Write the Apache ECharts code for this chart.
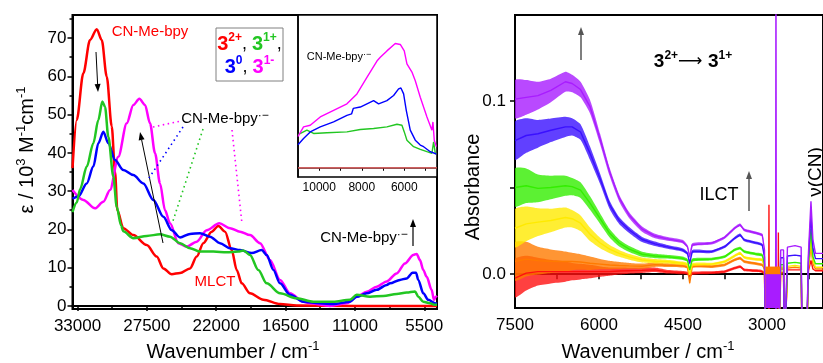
<!DOCTYPE html>
<html>
<head>
<meta charset="utf-8">
<script src="https://cdn.jsdelivr.net/npm/echarts@6/dist/echarts.min.js"></script>
<style>
  html, body { margin: 0; padding: 0; background: #fff; }
  #chart { width: 823px; height: 363px; }
</style>
</head>
<body>
<div id="chart"></div>
<script>
// ---- left panel: UV-vis-NIR spectra, [wavenumber, eps / 10^3] ----
const uvRed = [[33400,36],[33063,48.6],[32540,60.8],[32009,69.5],[31477,72.3],[31081,69.5],[30684,59.9],[30288,46.9],[30026,35],[29844,25],[29368,20.3],[28575,18.5],[27512,15.9],[26719,12.9],[26196,9.8],[25530,8.3],[24872,8.6],[24079,9.8],[23547,12.9],[23024,16.4],[22358,19.4],[21835,20.9],[21303,19.4],[20772,14.6],[20376,9.4],[19979,5.9],[19321,3.3],[18266,1.6],[16942,0.5],[15618,0.1],[11000,0],[4490,0]]
const uvMagenta = [[33400,30.3],[32540,27.7],[31612,25.5],[30954,27.2],[30423,30.3],[29765,39],[29098,47.7],[28575,52.5],[28099,54.1],[27647,52.5],[27251,47.7],[26854,39.9],[26458,32],[26063,25],[25665,21.6],[25007,16.4],[24340,15.5],[23547,16.8],[22754,19.8],[21755,21.6],[20907,20.3],[20114,19.4],[19321,18.5],[18528,16.4],[17735,12],[16942,6.8],[16149,3.3],[15094,1.1],[14563,0.7],[12977,0],[11653,0.7],[10859,2.4],[10066,3.7],[9273,5.0],[8480,6.4],[7688,8.5],[7030,11.1],[6371,13.3],[6101,13.6],[5840,12],[5578,9.4],[5309,7.6],[4913,4.2],[4731,1.6],[4573,2.4],[4490,2.6]]
const uvBlue = [[33400,28],[32937,28.6],[32270,32],[31747,36.4],[31350,42.5],[30954,45.5],[30558,42.5],[30026,38.1],[29368,35.5],[28575,34.2],[27782,32],[26989,27.7],[26196,23.3],[25530,19.8],[24872,17.9],[24079,18.8],[23285,19],[22492,18.1],[21699,16.4],[20907,15.1],[20114,14.6],[19186,13.8],[18394,14.6],[17996,13.3],[17467,9.4],[16942,5.9],[16149,2.9],[15094,1.1],[13773,0.7],[12715,0.5],[11391,1.1],[10859,2.4],[10066,3.3],[9273,4.2],[8480,5.5],[8219,5.9],[7426,6.8],[6895,7.2],[6419,8.7],[6156,8.7],[5974,6.8],[5578,3.3],[5181,1.6],[4652,0.7],[4490,0.6]]
const uvGreen = [[33400,24.5],[33063,27],[32800,30.5],[32270,36.4],[31747,42.5],[31350,48.6],[31033,53.4],[30820,52],[30558,44.2],[30161,33.8],[29891,25.9],[29550,21],[29368,19.5],[28575,17.7],[27512,18.3],[26458,18.7],[25665,18.1],[24872,16.4],[24079,15.1],[23285,14.2],[22231,14.2],[21168,14],[20249,14.2],[19852,14.5],[19321,13.3],[18662,9.4],[17996,5.9],[16942,3.3],[15618,2.0],[14301,1.1],[12715,1.1],[11391,1.6],[10859,2.9],[9802,2.4],[8745,2.6],[7688,3.1],[6895,3.5],[6236,3.8],[5974,2.4],[5578,1.1],[5048,0.7],[4652,0.3],[4490,0.3]]

// inset (NIR zoom)
const insetRed = [[11000,0],[4460,0]]
const insetMagenta = [[11000,3.4],[10739,4.44],[10424,4.62],[9953,5.52],[9325,6.24],[8698,6.95],[8227,8.03],[7757,9.82],[7286,11.6],[7129,12.0],[6816,12.7],[6424,13.5],[6188,13.4],[6000,12.7],[5875,11.3],[5639,10.4],[5482,9.46],[5247,7.67],[4933,5.52],[4698,4.09],[4651,4.98],[4588,3.0],[4494,2.3]]
const insetBlue = [[11000,2.5],[10739,3.19],[10424,3.9],[9953,4.44],[9325,4.98],[8698,5.7],[8480,5.85],[8400,6.45],[8070,6.6],[7757,6.95],[7443,7.3],[7208,6.95],[6816,7.3],[6502,7.85],[6267,8.57],[6157,8.67],[6031,8.03],[5906,6.24],[5718,4.09],[5482,3.0],[5247,2.47],[5090,2.29],[4776,1.75],[4494,1.5]]
const insetGreen = [[11000,3.6],[10974,3.73],[10581,4.09],[10267,3.73],[9639,3.8],[8698,3.9],[8070,4.16],[7443,4.27],[6816,4.44],[6345,4.73],[6110,4.62],[6000,3.9],[5875,3.0],[5561,2.29],[5247,2.0],[4933,1.75],[4698,1.58],[4620,2.83],[4541,1.58],[4494,1.5]]

const uvTicks = [33000, 27500, 22000, 16500, 11000, 5500]
const uvMinorTicks = [30250, 24750, 19250, 13750, 8250]
const epsTicks = [0, 10, 20, 30, 40, 50, 60, 70]
const epsMinorTicks = [5, 15, 25, 35, 45, 55, 65, 75]
const insetLabels = [10000, 8000, 6000]
const insetTicks = [10000, 9000, 8000, 7000, 6000, 5000]

// ---- right panel: IR difference spectra on a shared wavenumber grid ----
const irWn = [7500,7300,7090,6860,6600,6480,6330,6160,5980,5810,5640,5460,5230,5000,4800,4510,4420,4380,4335,3990,3755,3580,3480,3405,3175,3085,3045,3025,2972,2965,2958,2847,2840,2833,2804,2797,2790,2770,2755,2705,2690,2660,2635,2500,2390,2370,2300,2260,2215,2180,2135,2000]
const irPurple = [0.101,0.102,0.103,0.106,0.111,0.110,0.1065,0.0966,0.078,0.059,0.044,0.034,0.026,0.022,0.0205,0.0188,0.0159,0.0101,0.0169,0.0179,0.0213,0.0265,0.0284,0.0255,0.0236,0.0226,0.014,-0.05,-0.05,-0.05,-0.05,-0.05,0.2,-0.05,-0.05,-0.05,-0.05,-0.05,0.014,0.014,-0.05,-0.05,0.0156,0.0165,0.0156,-0.05,-0.05,0.012,0.042,0.02,0.012,0.012]
const irBlue = [0.077,0.080,0.081,0.083,0.085,0.085,0.082,0.0697,0.055,0.040,0.031,0.0255,0.020,0.0175,0.0159,0.014,0.012,0.0063,0.013,0.013,0.0159,0.0207,0.0226,0.0198,0.0179,0.0169,0.010,-0.05,-0.05,-0.05,-0.05,-0.05,-0.05,-0.05,-0.05,-0.05,-0.05,-0.05,0.0095,0.0095,-0.05,-0.05,0.0105,0.011,0.0105,-0.05,-0.05,0.009,0.034,0.015,0.009,0.009]
const irGreen = [0.050,0.051,0.0495,0.050,0.051,0.0505,0.0485,0.041,0.032,0.0236,0.018,0.0145,0.0115,0.0105,0.0101,0.0092,0.008,0.0025,0.0082,0.0087,0.0101,0.014,0.015,0.013,0.0115,0.011,0.006,-0.05,-0.05,-0.05,-0.05,-0.05,-0.05,-0.05,-0.05,-0.05,-0.05,-0.05,0.0055,0.0055,-0.05,-0.05,0.0063,0.0068,0.0063,-0.05,-0.05,0.006,0.026,0.01,0.006,0.006]
const irYellow = [0.0265,0.029,0.030,0.031,0.0327,0.032,0.0294,0.023,0.018,0.0145,0.012,0.010,0.0082,0.0075,0.0073,0.0063,0.0055,-0.0004,0.0054,0.0058,0.0073,0.0105,0.0121,0.0097,0.0085,0.0082,0.004,-0.05,-0.05,-0.05,-0.05,-0.05,-0.05,-0.05,-0.05,-0.05,-0.05,-0.05,0.004,0.004,-0.05,-0.05,0.0045,0.005,0.0045,-0.05,-0.05,0.004,0.02,0.008,0.004,0.004]
const irOrange = [0.0073,0.0087,0.0078,0.0075,0.0073,0.0073,0.007,0.0063,0.0058,0.0053,0.005,0.0048,0.0046,0.0055,0.0052,0.0048,0.004,-0.0052,0.0044,0.0044,0.0054,0.0082,0.0092,0.0073,0.006,0.0054,0.003,-0.05,-0.05,-0.05,-0.05,-0.05,-0.05,-0.05,-0.05,-0.05,-0.05,-0.05,0.003,0.003,-0.05,-0.05,0.0035,0.004,0.0035,-0.05,-0.05,0.003,0.016,0.006,0.003,0.003]
const irRed = [-0.0023,0.0006,0.0015,0.0015,0.0015,0.0015,0.0015,0.0015,0.0015,0.0015,0.0018,0.002,0.0022,0.0025,0.0015,0.0009,0.0005,-0.0014,0.0005,0.0009,0.0015,0.0035,0.0044,0.0025,0.002,0.0015,0.0005,-0.05,-0.05,0.040,-0.05,-0.05,-0.05,-0.05,-0.05,0.024,-0.05,-0.05,0.001,0.001,-0.05,-0.05,0.0025,0.0025,0.0025,-0.05,-0.05,0.002,0.008,0.003,0.002,0.002]
// half-width of the detector noise band
const irNoise = [0.011,0.010,0.008,0.0068,0.0058,0.005,0.0045,0.0039,0.003,0.0024,0.002,0.0017,0.0015,0.0013,0.0011,0.001,0.0009,0.0009,0.0009,0.0008,0.0008,0.0008,0.0008,0.0008,0.0008,0.0008,0.0008,0,0,0,0,0,0,0,0,0,0,0,0,0,0,0,0,0,0,0,0,0,0,0,0,0]
// saturated solvent window: [from, to, top]
const satOrange = [[3028, 2767, 0.0044]]
const satPurple = [[3028, 2767, 0.0]]

const irTicks = [7500, 6750, 6000, 5250, 4500, 3750, 3000, 2250]
const irLabels = [7500, 6000, 4500, 3000]
const absTicks = [0, 0.05, 0.1]
const absLabels = [0, 0.1]

const font = 'Liberation Sans, Arial, Helvetica, sans-serif'
const C = { red: '#ff0000', green: '#22c622', blue: '#0000ff', magenta: '#ff00ff' }
const IR = { red: '#ff1010', orange: '#ff7a00', yellow: '#ffea00', green: '#33ee00', blue: '#3a10ff', purple: '#a81cff' }

const chart = echarts.init(document.getElementById('chart'))

const plain = v => String(v)

function uvLine(data, color) {
  return { type: 'line', xAxisIndex: 0, yAxisIndex: 0, data, showSymbol: false, smooth: 0.3, smoothMonotone: 'x',
    lineStyle: { color, width: 2.5 }, itemStyle: { color } }
}
function insetLine(data, color, w) {
  return { type: 'line', xAxisIndex: 2, yAxisIndex: 2, data, showSymbol: false, z: 6,
    lineStyle: { color, width: w || 1.4 }, itemStyle: { color } }
}
function irPairs(vals) { return irWn.map((w, i) => [w, vals[i]]) }
function irLine(vals, color) {
  return { type: 'line', xAxisIndex: 3, yAxisIndex: 3, data: irPairs(vals), showSymbol: false,
    lineStyle: { color, width: 1.4 }, itemStyle: { color } }
}
function irBand(vals, color) {
  return {
    type: 'custom', xAxisIndex: 3, yAxisIndex: 3, data: [[irWn[0], vals[0]]], clip: true,
    renderItem: function (params, api) {
      const up = [], lo = []
      irWn.forEach((w, i) => {
        if (irNoise[i] > 0) {
          up.push(api.coord([w, vals[i] + irNoise[i]]))
          lo.unshift(api.coord([w, vals[i] - irNoise[i]]))
        }
      })
      return { type: 'polygon', shape: { points: up.concat(lo), smooth: 0.2 }, style: { fill: color, opacity: 0.8 } }
    }
  }
}
function satBlock(data, color) {
  return {
    type: 'custom', xAxisIndex: 3, yAxisIndex: 3, data, clip: true, z: 4,
    renderItem: function (params, api) {
      const p1 = api.coord([api.value(0), api.value(2)])
      const p2 = api.coord([api.value(1), -0.0195])
      return { type: 'rect', shape: { x: p1[0], y: p1[1], width: p2[0] - p1[0], height: p2[1] - p1[1] }, style: { fill: color } }
    }
  }
}

function arrow(x1, y1, x2, y2, color, w) {
  const a = Math.atan2(y2 - y1, x2 - x1), h = 8, s = 3
  const bx = x2 - h * Math.cos(a), by = y2 - h * Math.sin(a)
  return [
    { type: 'line', z: 100, shape: { x1, y1, x2: bx, y2: by }, style: { stroke: color, lineWidth: w } },
    { type: 'polygon', z: 100, shape: { points: [[x2, y2], [bx + s * Math.sin(a), by - s * Math.cos(a)], [bx - s * Math.sin(a), by + s * Math.cos(a)]] }, style: { fill: color } }
  ]
}
function dotted(x1, y1, x2, y2, color) {
  return { type: 'line', z: 100, shape: { x1, y1, x2, y2 }, style: { stroke: color, lineWidth: 1.6, lineDash: [1.5, 3.5] } }
}
function txt(x, y, text, size, color, extra) {
  return Object.assign({ type: 'text', x, y, z: 100, style: Object.assign({ text, fill: color, fontSize: size, fontFamily: font, align: 'center', verticalAlign: 'middle' }, extra || {}) })
}
const supStyle = (size, color, bold) => ({ fontSize: size, fill: color, fontFamily: font, fontWeight: bold ? 'bold' : 'normal', verticalAlign: 'top', lineHeight: size })
const baseStyle = (size, color, bold, lh) => ({ fontSize: size, fill: color, fontFamily: font, fontWeight: bold ? 'bold' : 'normal', lineHeight: lh })

const axisLineBlack = { show: true, lineStyle: { color: '#000', width: 2 } }

const option = {
  animation: false,
  backgroundColor: '#fff',
  grid: [
    { left: 72.5, right: 386, top: 15, bottom: 54, show: true, borderColor: '#000', borderWidth: 2 },
    { left: 298, right: 386, top: 15, bottom: 186, show: true, borderColor: '#000', borderWidth: 1.5, backgroundColor: '#fff', z: 5 },
    { left: 515, right: -8, top: 15, bottom: 55, show: true, borderColor: '#000', borderWidth: 2 }
  ],
  xAxis: [
    { gridIndex: 0, type: 'value', min: 4490, max: 33400, inverse: true, axisLine: axisLineBlack,
      axisTick: { customValues: uvTicks, length: 5, lineStyle: { color: '#000', width: 1.5 } },
      axisLabel: { customValues: uvTicks, fontSize: 17, color: '#000', fontFamily: font, margin: 9, formatter: plain },
      splitLine: { show: false } },
    { gridIndex: 0, type: 'value', min: 4490, max: 33400, inverse: true, position: 'bottom', axisLine: { show: false },
      axisTick: { customValues: uvMinorTicks, length: 3, lineStyle: { color: '#000', width: 1.5 } },
      axisLabel: { show: false }, splitLine: { show: false } },
    { gridIndex: 1, type: 'value', min: 4460, max: 11000, inverse: true, axisLine: { show: true, lineStyle: { color: '#000', width: 1.5 } },
      axisTick: { customValues: insetTicks, length: 3, lineStyle: { color: '#000', width: 1 } },
      axisLabel: { customValues: insetLabels, fontSize: 12, color: '#000', fontFamily: font, margin: 5, formatter: plain },
      splitLine: { show: false }, z: 6 },
    { gridIndex: 2, type: 'value', min: 2000, max: 7500, inverse: true, axisLine: axisLineBlack,
      axisTick: { customValues: irTicks, length: 5, lineStyle: { color: '#000', width: 1.5 } },
      axisLabel: { customValues: irLabels, fontSize: 17, color: '#000', fontFamily: font, margin: 9, formatter: plain },
      splitLine: { show: false } }
  ],
  yAxis: [
    { gridIndex: 0, type: 'value', min: -0.8, max: 76, axisLine: axisLineBlack,
      axisTick: { customValues: epsTicks, length: 5, lineStyle: { color: '#000', width: 1.5 } },
      axisLabel: { customValues: epsTicks, fontSize: 17, color: '#000', fontFamily: font, margin: 6 },
      splitLine: { show: false } },
    { gridIndex: 0, type: 'value', min: -0.8, max: 76, position: 'left', axisLine: { show: false },
      axisTick: { customValues: epsMinorTicks, length: 3, lineStyle: { color: '#000', width: 1.5 } },
      axisLabel: { show: false }, splitLine: { show: false } },
    { gridIndex: 1, type: 'value', min: -1, max: 16.6, axisLine: { show: true, lineStyle: { color: '#000', width: 1.5 } },
      axisTick: { show: false }, axisLabel: { show: false }, splitLine: { show: false }, z: 6 },
    { gridIndex: 2, type: 'value', min: -0.0195, max: 0.1495, axisLine: axisLineBlack,
      axisTick: { customValues: absTicks, length: 5, lineStyle: { color: '#000', width: 1.5 } },
      axisLabel: { customValues: absLabels, fontSize: 17, color: '#000', fontFamily: font, margin: 9, formatter: v => v.toFixed(1) },
      splitLine: { show: false } }
  ],
  series: [
    uvLine(uvRed, C.red), uvLine(uvMagenta, C.magenta), uvLine(uvBlue, C.blue), uvLine(uvGreen, C.green),
    insetLine(insetRed, '#ff6b6b', 1.2), insetLine(insetGreen, C.green), insetLine(insetBlue, C.blue), insetLine(insetMagenta, C.magenta),
    irBand(irRed, IR.red), irLine(irRed, IR.red),
    irBand(irOrange, IR.orange), irLine(irOrange, IR.orange),
    irBand(irYellow, IR.yellow), irLine(irYellow, IR.yellow),
    irBand(irGreen, IR.green), irLine(irGreen, IR.green),
    irBand(irBlue, IR.blue), irLine(irBlue, IR.blue),
    irBand(irPurple, IR.purple), irLine(irPurple, IR.purple),
    satBlock(satOrange, IR.orange), satBlock(satPurple, IR.purple)
  ],
  graphic: { elements: [
    // left panel titles
    { type: 'text', x: 27, y: 150, rotation: Math.PI / 2, z: 100,
      style: { text: '{b|ε / 10}{s|3}{b| M}{s|-1}{b|cm}{s|-1}', align: 'center', verticalAlign: 'middle',
        rich: { b: baseStyle(20, '#000', false, 24), s: supStyle(13, '#000', false) } } },
    { type: 'text', x: 233, y: 352, z: 100,
      style: { text: '{b|Wavenumber / cm}{s|-1}', align: 'center', verticalAlign: 'middle',
        rich: { b: baseStyle(20, '#000', false, 24), s: supStyle(13, '#000', false) } } },
    // left panel annotations
    txt(150, 32, 'CN-Me-bpy', 15, C.red),
    txt(215, 282, 'MLCT', 15, C.red),
    { type: 'text', x: 225, y: 119, z: 100,
      style: { text: '{b|CN-Me-bpy}{s|·−}', align: 'center', verticalAlign: 'middle',
        rich: { b: baseStyle(15, '#000', false, 18), s: supStyle(12, '#000', false) } } },
    { type: 'text', x: 364, y: 238, z: 100,
      style: { text: '{b|CN-Me-bpy}{s|·−}', align: 'center', verticalAlign: 'middle',
        rich: { b: baseStyle(15, '#000', false, 18), s: supStyle(12, '#000', false) } } },
    { type: 'text', x: 339, y: 57, z: 100,
      style: { text: '{b|CN-Me-bpy}{s|·−}', align: 'center', verticalAlign: 'middle',
        rich: { b: baseStyle(11, '#000', false, 14), s: supStyle(9, '#000', false) } } },
    { type: 'rect', z: 100, shape: { x: 216, y: 28, width: 67, height: 53 }, style: { fill: '#fff', stroke: '#808080', lineWidth: 1 } },
    { type: 'text', x: 249.5, y: 44, z: 101,
      style: { text: '{r|3}{rs|2+}{k|, }{g|3}{gs|1+}{k|,}', align: 'center', verticalAlign: 'middle',
        rich: { r: baseStyle(20, C.red, true, 24), rs: supStyle(12, C.red, true), g: baseStyle(20, C.green, true, 24), gs: supStyle(12, C.green, true), k: baseStyle(18, '#000', false, 24) } } },
    { type: 'text', x: 249.5, y: 67, z: 101,
      style: { text: '{b|3}{bs|0}{k|, }{m|3}{ms|1-}', align: 'center', verticalAlign: 'middle',
        rich: { b: baseStyle(20, C.blue, true, 24), bs: supStyle(12, C.blue, true), m: baseStyle(20, C.magenta, true, 24), ms: supStyle(12, C.magenta, true), k: baseStyle(18, '#000', false, 24) } } },
    ...arrow(96, 52, 98, 92, '#000', 1),
    ...arrow(163, 243, 140, 132, '#000', 1),
    ...arrow(413, 246, 413, 219, '#000', 1.2),
    dotted(153, 127, 181, 121, C.magenta),
    dotted(183, 127, 147, 181, C.blue),
    dotted(203, 129, 172, 224, C.green),
    dotted(232, 130, 242, 224, C.magenta),
    // right panel titles & annotations
    { type: 'text', x: 473, y: 187, rotation: Math.PI / 2, z: 100,
      style: { text: 'Absorbance', fill: '#000', fontSize: 20, fontFamily: font, align: 'center', verticalAlign: 'middle' } },
    { type: 'text', x: 648, y: 352, z: 100,
      style: { text: '{b|Wavenumber / cm}{s|-1}', align: 'center', verticalAlign: 'middle',
        rich: { b: baseStyle(20, '#000', false, 24), s: supStyle(13, '#000', false) } } },
    { type: 'text', x: 693, y: 62, z: 100,
      style: { text: '{b|3}{s|2+}{a|⟶ }{b|3}{s|1+}', align: 'center', verticalAlign: 'middle',
        rich: { b: baseStyle(19, '#000', true, 24), s: supStyle(12, '#000', true), a: { fontSize: 17, fill: '#000', fontFamily: 'DejaVu Sans', lineHeight: 24 } } } },
    txt(719, 195, 'ILCT', 18, '#000'),
    { type: 'text', x: 816, y: 172, rotation: Math.PI / 2, z: 100,
      style: { text: 'ν(CN)', fill: '#000', fontSize: 19, fontFamily: font, align: 'center', verticalAlign: 'middle' } },
    ...arrow(581, 60, 581, 27, '#555', 1.5),
    ...arrow(749, 211, 749, 171, '#555', 1.5)
  ] }
}

chart.setOption(option)
</script>
</body>
</html>
